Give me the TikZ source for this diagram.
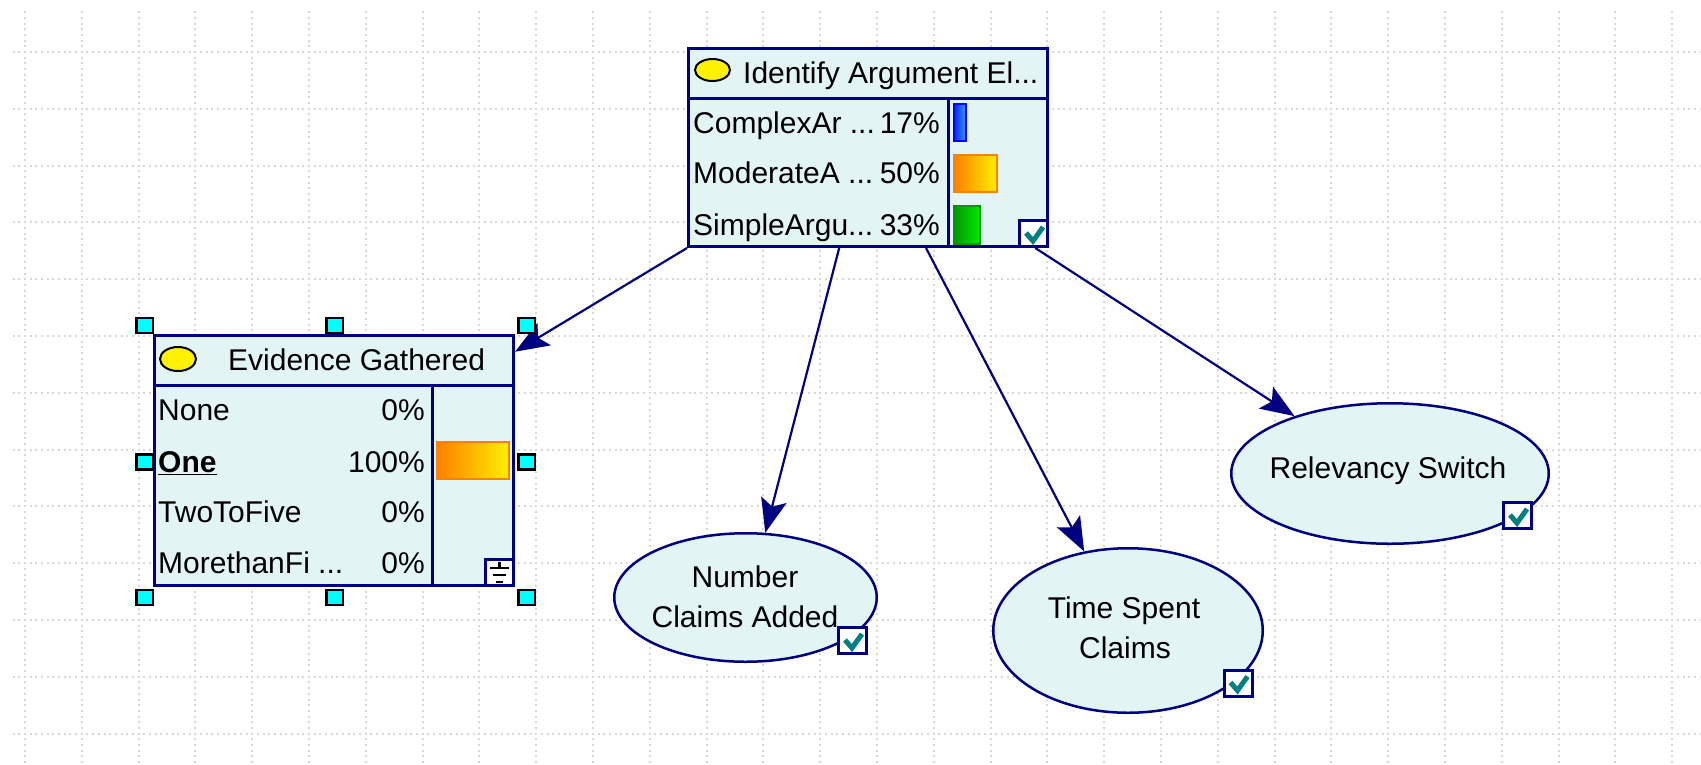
\documentclass[tikz,border=0pt]{standalone}
\usepackage{fontspec}
\setmainfont{Liberation Sans}
\usetikzlibrary{arrows.meta,shapes.geometric,calc}

\definecolor{navy}{RGB}{0,0,128}
\definecolor{nodefill}{RGB}{226,244,244}
\definecolor{gridgray}{RGB}{216,216,216}
\definecolor{tealck}{RGB}{0,128,128}
\definecolor{handlecyan}{RGB}{0,255,255}
\definecolor{barorange}{RGB}{255,128,0}
\definecolor{baryellow}{RGB}{255,240,0}
\definecolor{bluedark}{RGB}{0,40,255}
\definecolor{bluelight}{RGB}{60,150,255}
\definecolor{greendark}{RGB}{0,150,0}
\definecolor{greenlight}{RGB}{0,235,0}

\newcommand{\tickbox}[2]{%
  \node[ckframe] (#1) at (#2) {};
  \draw[ckmark] ($(#1.center)+(-7.5,-0.5)$) -- ++(7,8) -- ++(10,-14);
}

\begin{document}
\begin{tikzpicture}[x=1pt,y=-1pt,
  lbl/.style={font=\fontsize{30}{36}\selectfont, inner sep=0pt, text=black},
  boxnode/.style={draw=navy, line width=3pt, fill=nodefill, rectangle, inner sep=0pt},
  ovalnode/.style={draw=navy, line width=2.5pt, fill=nodefill, ellipse, inner sep=0pt},
  divider/.style={draw=navy, line width=3pt},
  iconoval/.style={draw=black, line width=2pt, fill=yellow, ellipse, inner sep=0pt},
  ckframe/.style={draw=navy, line width=3pt, fill=white, rectangle, inner sep=0pt,
                  minimum width=28pt, minimum height=26pt},
  ckmark/.style={draw=tealck, line width=5pt, line join=miter},
  handle/.style={draw=black, fill=handlecyan, line width=2.5pt, rectangle, inner sep=0pt,
                 minimum width=16.5pt, minimum height=15pt},
  link/.style={draw=navy, line width=2.2pt, -{Stealth[length=34pt,width=26pt,inset=7pt]}},
  griddot/.style={draw=gridgray, line width=2pt, dash pattern=on 2pt off 3.68pt}
]
\fill[white] (0,0) rectangle (1701,764);
\useasboundingbox (0,0) rectangle (1701,764);

% dotted background grid
\foreach \k in {0,...,29}
  \draw[griddot] ({25+56.8*\k},11.24) -- ({25+56.8*\k},764);
\foreach \k in {0,...,12}
  \draw[griddot] (12.64,{52+56.8*\k}) -- (1701,{52+56.8*\k});

% ---- Identify Argument Elements ----
\node[boxnode, minimum width=359pt, minimum height=198pt] (idf) at (868,147.5) {};
\draw[divider] (688.5,98) -- (1047.5,98);
\draw[divider] (948,98) -- (948,246.5);
\node[iconoval, minimum width=35pt, minimum height=22pt] (idficon) at (712.5,70) {};
\node[lbl, anchor=base west] (idftitle) at (743,83) {Identify Argument El...};
\node[lbl, anchor=base west] (idfs1) at (693,133) {ComplexAr ...};
\node[lbl, anchor=base east] (idfp1) at (940,133) {17\%};
\node[lbl, anchor=base west] (idfs2) at (693,183) {ModerateA ...};
\node[lbl, anchor=base east] (idfp2) at (940,183) {50\%};
\node[lbl, anchor=base west] (idfs3) at (693,235) {SimpleArgu...};
\node[lbl, anchor=base east] (idfp3) at (940,235) {33\%};
\shadedraw[draw=blue, line width=2pt, left color=bluedark, right color=bluelight]
  (954,104) rectangle (966,141);
\shadedraw[draw=barorange, line width=2pt, left color=barorange, right color=baryellow]
  (954,155) rectangle (997,192);
\shadedraw[draw=greendark, line width=2pt, left color=greendark, right color=greenlight]
  (954,206) rectangle (980,244);
\tickbox{idfck}{1033.5,233.5}

% ---- Evidence Gathered ----
\node[boxnode, minimum width=359pt, minimum height=250pt] (evd) at (334,460.5) {};
\draw[divider] (154.5,385) -- (513.5,385);
\draw[divider] (432,385) -- (432,585.5);
\node[iconoval, minimum width=36pt, minimum height=24pt] (evdicon) at (178,359) {};
\node[lbl, anchor=base west] (evdtitle) at (228,370) {Evidence Gathered};
\node[lbl, anchor=base west] (evds1) at (158,420) {None};
\node[lbl, anchor=base east] (evdp1) at (425,420) {0\%};
\node[lbl, anchor=base west] (evds2) at (158,472) {\textbf{\underline{One}}};
\node[lbl, anchor=base east] (evdp2) at (425,472) {100\%};
\node[lbl, anchor=base west] (evds3) at (158,522) {TwoToFive};
\node[lbl, anchor=base east] (evdp3) at (425,522) {0\%};
\node[lbl, anchor=base west] (evds4) at (158,573) {MorethanFi ...};
\node[lbl, anchor=base east] (evdp4) at (425,573) {0\%};
\shadedraw[draw=barorange, line width=2pt, left color=barorange, right color=baryellow]
  (437,442) rectangle (509,479);
\node[ckframe] (evdgnd) at (499.5,572) {};
\draw[black, line width=2.5pt] (499.5,562) -- (499.5,568)
  (490,568) -- (509,568) (493,575) -- (506,575) (496,582) -- (503,582);

% ---- leaf nodes ----
\node[ovalnode, minimum width=262.5pt, minimum height=128.5pt] (nca) at (745.5,597.5) {};
\node[lbl, anchor=base] (ncat1) at (745,587) {Number};
\node[lbl, anchor=base] (ncat2) at (745,627) {Claims Added};
\tickbox{ncack}{852.5,640.5}

\node[ovalnode, minimum width=269.5pt, minimum height=164.5pt] (tsc) at (1128,630.5) {};
\node[lbl, anchor=base] (tsct1) at (1124,618) {Time Spent};
\node[lbl, anchor=base] (tsct2) at (1125,658) {Claims};
\tickbox{tscck}{1238,683}

\node[ovalnode, minimum width=317.5pt, minimum height=140.5pt] (rs) at (1390,473.5) {};
\node[lbl, anchor=base] (rst) at (1388,478) {Relevancy Switch};
\tickbox{rsck}{1517.5,515.5}

% ---- arcs ----
\draw[link] (idf.south west) -- (evd.31.5);
\draw[link] (idf.-106.3) -- (nca.73);
\draw[link] (idf.-60.9) -- (tsc.119);
\draw[link] (idf.-31) -- (rs.149.7);

% ---- selection handles ----
\node[handle] (h1) at (144.5,325.5) {};
\node[handle] (h2) at (334.5,325.5) {};
\node[handle] (h3) at (526.5,325.5) {};
\node[handle] (h4) at (144.5,462) {};
\node[handle] (h5) at (526.5,462) {};
\node[handle] (h6) at (144.5,597.5) {};
\node[handle] (h7) at (334.5,597.5) {};
\node[handle] (h8) at (526.5,597.5) {};
\end{tikzpicture}
\end{document}
